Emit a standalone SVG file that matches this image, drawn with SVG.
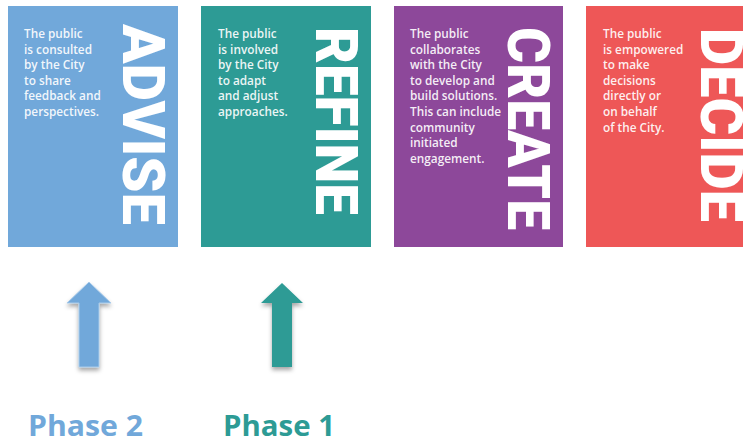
<svg xmlns="http://www.w3.org/2000/svg" width="743" height="440" viewBox="0 0 743 440">
  <defs>
    <style>
      .card-body { font-family: "Open Sans", "Noto Sans", "Liberation Sans", sans-serif; font-weight: 600; font-size: 11.8px; fill: #ffffff; fill-opacity: 0.92; }
      .card-title { font-family: Roboto, "Liberation Sans", sans-serif; font-weight: 900; font-size: 60px; fill: #ffffff; }
      .phase { font-family: "Open Sans", "Noto Sans", "Liberation Sans", sans-serif; font-weight: 700; font-size: 29px; }
      .advise { fill: #71A8DA; }
      .refine { fill: #2D9B95; }
      .create { fill: #8D489A; }
      .decide { fill: #EE5757; }
    </style>
    <filter id="shadow" x="-40%" y="-20%" width="180%" height="140%">
      <feDropShadow dx="0" dy="3" stdDeviation="2" flood-color="#000000" flood-opacity="0.35"/>
    </filter>
  </defs>

  <rect width="743" height="440" fill="#ffffff"/>

  <!-- ADVISE -->
  <g id="advise">
    <rect class="advise" x="8" y="6" width="170" height="241"/>
    <text class="card-body">
      <tspan x="24" y="38">The public</tspan>
      <tspan x="24" y="53.6">is consulted</tspan>
      <tspan x="24" y="69.2">by the City</tspan>
      <tspan x="24" y="84.8">to share</tspan>
      <tspan x="24" y="100.4">feedback and</tspan>
      <tspan x="24" y="116">perspectives.</tspan>
    </text>
    <text class="card-title" transform="translate(123 24) rotate(90)" x="0" y="0" textLength="201" lengthAdjust="spacingAndGlyphs">ADVISE</text>
  </g>

  <!-- REFINE -->
  <g id="refine">
    <rect class="refine" x="201" y="6" width="170" height="241"/>
    <text class="card-body">
      <tspan x="218" y="38">The public</tspan>
      <tspan x="218" y="53.6">is involved</tspan>
      <tspan x="218" y="69.2">by the City</tspan>
      <tspan x="218" y="84.8">to adapt</tspan>
      <tspan x="218" y="100.4">and adjust</tspan>
      <tspan x="218" y="116">approaches.</tspan>
    </text>
    <text class="card-title" transform="translate(316 27) rotate(90)" x="0" y="0" textLength="188" lengthAdjust="spacingAndGlyphs">REFINE</text>
  </g>

  <!-- CREATE -->
  <g id="create">
    <rect class="create" x="394" y="6" width="169" height="241"/>
    <text class="card-body">
      <tspan x="410" y="38">The public</tspan>
      <tspan x="410" y="53.6">collaborates</tspan>
      <tspan x="410" y="69.2">with the City</tspan>
      <tspan x="410" y="84.8">to develop and</tspan>
      <tspan x="410" y="100.4">build solutions.</tspan>
      <tspan x="410" y="116">This can include</tspan>
      <tspan x="410" y="131.6">community</tspan>
      <tspan x="410" y="147.2">initiated</tspan>
      <tspan x="410" y="162.8">engagement.</tspan>
    </text>
    <text class="card-title" transform="translate(508 27) rotate(90)" x="0" y="0" textLength="203" lengthAdjust="spacingAndGlyphs">CREATE</text>
  </g>

  <!-- DECIDE -->
  <g id="decide">
    <rect class="decide" x="586" y="6" width="170" height="241"/>
    <text class="card-body">
      <tspan x="603" y="38">The public</tspan>
      <tspan x="603" y="53.6">is empowered</tspan>
      <tspan x="603" y="69.2">to make</tspan>
      <tspan x="603" y="84.8">decisions</tspan>
      <tspan x="603" y="100.4">directly or</tspan>
      <tspan x="603" y="116">on behalf</tspan>
      <tspan x="603" y="131.6">of the City.</tspan>
    </text>
    <text class="card-title" transform="translate(701 28) rotate(90)" x="0" y="0" textLength="194" lengthAdjust="spacingAndGlyphs">DECIDE</text>
  </g>

  <!-- upward phase arrows -->
  <g id="connectors" filter="url(#shadow)">
    <polygon class="advise" points="89,282 111,303 99,303 99,367 79,367 79,303 67,303" stroke="#A9CBEA" stroke-width="1"/>
    <polygon class="refine" points="282,283 303,303 292,303 292,367 272,367 272,303 261,303"/>
  </g>

  <!-- phase labels -->
  <g id="phase-2">
    <text class="phase advise" x="28" y="436" textLength="115" lengthAdjust="spacingAndGlyphs">Phase 2</text>
  </g>
  <g id="phase-1">
    <text class="phase refine" x="223" y="436" textLength="112" lengthAdjust="spacingAndGlyphs">Phase 1</text>
  </g>
</svg>
